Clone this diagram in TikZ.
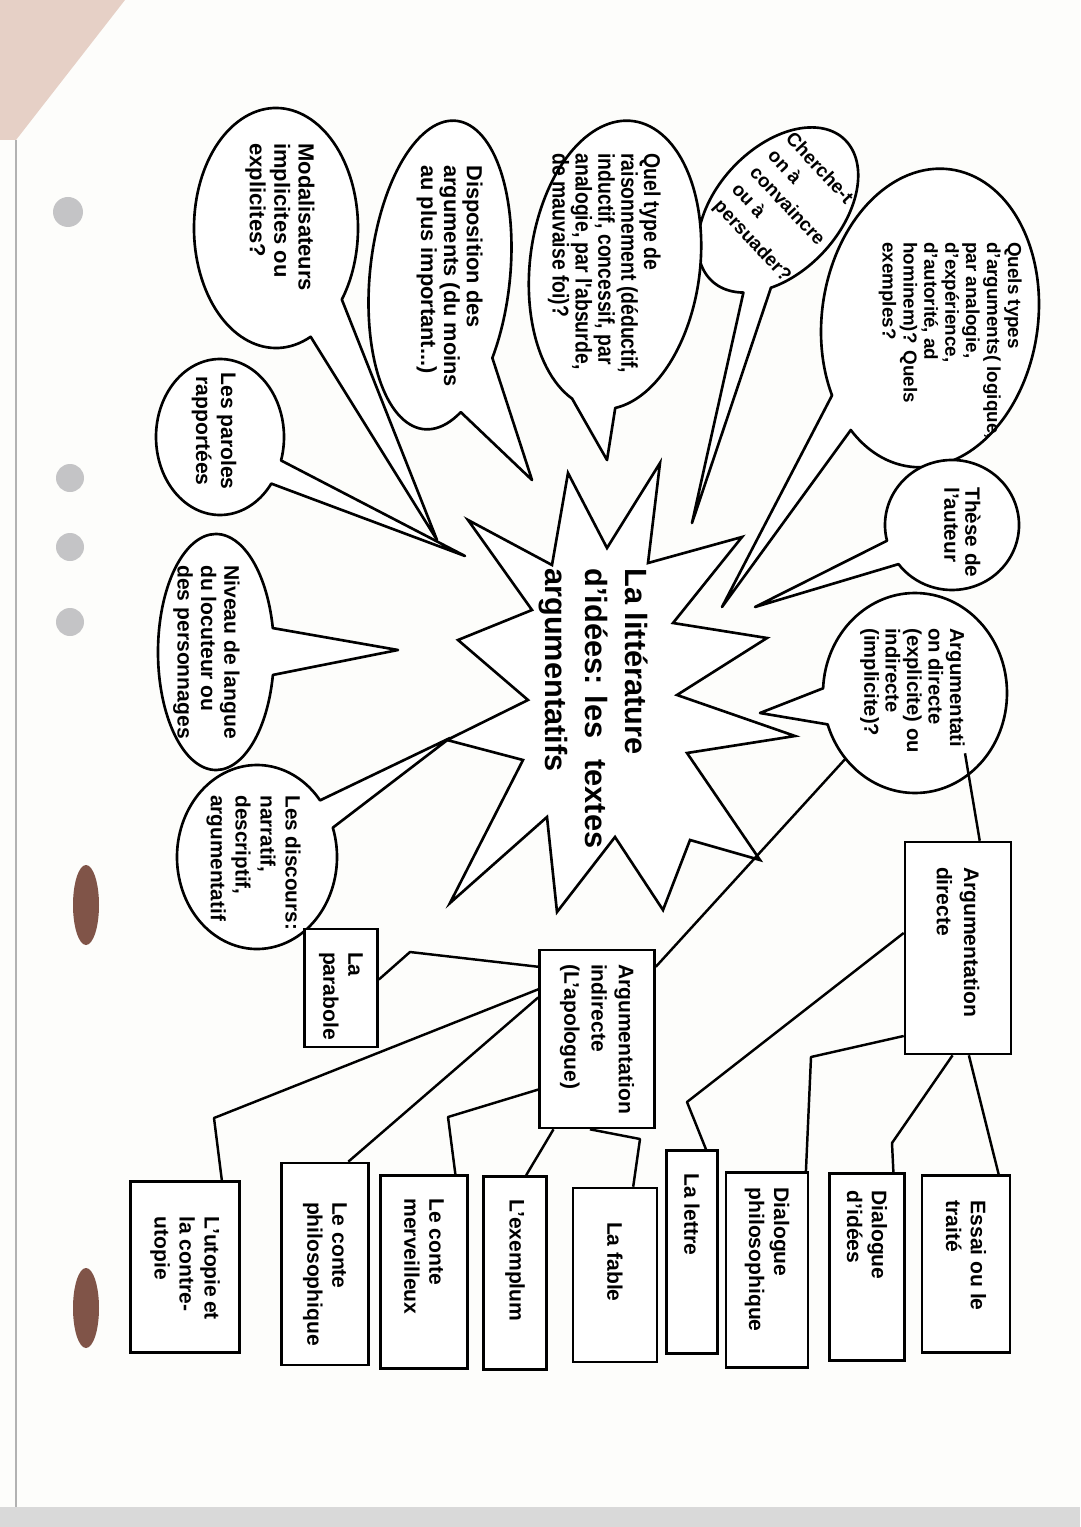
\documentclass[tikz,border=0pt]{standalone}
\usepackage{fontspec}
\setmainfont{Liberation Sans}
\newfontfamily\etroite{Liberation Sans}[FakeStretch=0.85]
\usetikzlibrary{calc}
\definecolor{papier}{RGB}{253,253,251}
\definecolor{trou}{RGB}{196,196,198}
\definecolor{dechire}{RGB}{128,84,72}
\definecolor{coin}{RGB}{230,208,198}
\tikzset{
  bulle/.style={draw=black, line width=1.5pt, fill=white, line join=round},
  etoile/.style={draw=black, line width=1.5pt, fill=white, line join=miter},
  etiq/.style 2 args={align=left, inner sep=0pt, font=\bfseries\fontsize{#1}{#2}\selectfont},
  boite/.style={draw=black, line width=1.5pt, fill=white, inner sep=0pt,
                font=\bfseries\fontsize{12}{14.2}\selectfont},
  lien/.style={line width=1.4pt, line join=round},
}
\newcommand\vtexte[2]{\rotatebox{-90}{\parbox{#1}{\raggedright #2}}}

\begin{document}
\begin{tikzpicture}[x=0.02cm, y=-0.02cm]
  \useasboundingbox (0,0) rectangle (1080,1527);
  % la feuille
  \fill[papier] (0,0) rectangle (1080,1527);
  \fill[coin] (0,0) -- (125,0) -- (16,140) -- (0,140) -- cycle;
  \draw[black!30, line width=1pt] (16,140) -- (16,1507);
  \fill[black!15] (0,1507) rectangle (1080,1527);
  \fill[trou] (68,212) circle[radius=15];
  \fill[trou] (70,478) circle[radius=14];
  \fill[trou] (70,547) circle[radius=14];
  \fill[trou] (70,622) circle[radius=14];
  \fill[dechire] (86,905) ellipse[x radius=13, y radius=40];
  \fill[dechire] (86,1308) ellipse[x radius=13, y radius=40];

  % l'etoile centrale
  \draw[etoile] (568,473) -- (607,548) -- (660,463) -- (648,563) -- (742,537) -- (673,623)
    -- (767,638) -- (677,695) -- (795,736) -- (687,753) -- (760,860) -- (690,840)
    -- (663,910) -- (615,837) -- (557,912) -- (547,817) -- (450,903) -- (523,760)
    -- (447,740) -- (528,700) -- (458,640) -- (532,610) -- (468,520) -- (552,565) -- cycle;
  \node[font=\bfseries\fontsize{17.5}{22.7}\selectfont, align=left, inner sep=0pt, rotate=-90,
        anchor=north west] (titre) at (648,568)
    {La litt\'erature\\d'id\'ees: les\hspace{0.4em} textes\\argumentatifs};

  % les bulles
  \coordinate (qtypes-pt) at (722,607);
  \draw[bulle, shift={(930,318)}, rotate=-8] (143:108 and 150)
    arc[start angle=143, end angle=485.6, x radius=108, y radius=150] -- (qtypes-pt) -- cycle;
  \node[etiq={10.7}{11.9}, rotate=-90, anchor=north west] (t-qtypes) at (1022,242)
    {Quels types\\d'arguments( logique,\\par analogie,\\d'exp\'erience,\\d'autorit\'e, ad\\hominem)? Quels\\exemples?};

  \coordinate (cherche-pt) at (692,523);
  \draw[bulle, shift={(778,210)}, rotate=-43] (60:62 and 97)
    arc[start angle=60, end angle=399.5, x radius=62, y radius=97] -- (cherche-pt) -- cycle;
  \node[etiq={10.8}{14}, rotate=-47, anchor=north west] (t-cherche) at (795,130)
    {Cherche-t\\on \`a\\convaincre\\ou \`a\\persuader?};

  \coordinate (qraison-pt) at (607,460);
  \draw[bulle, shift={(615,265)}, rotate=-7] (108:85 and 145)
    arc[start angle=108, end angle=438, x radius=85, y radius=145] -- (qraison-pt) -- cycle;
  \node[etiq={13}{13}, font=\etroite\bfseries\fontsize{13}{13}\selectfont, rotate=-90,
        anchor=north west] (t-qraison) at (661,153)
    {Quel type de\\raisonnement (d\'eductif,\\inductif, concessif, par\\analogie, par l'absurde,\\de mauvaise foi)?};

  \coordinate (dispo-pt) at (532,480);
  \draw[bulle, shift={(440,275)}, rotate=-6] (60:70 and 155)
    arc[start angle=60, end angle=389.8, x radius=70, y radius=155] -- (dispo-pt) -- cycle;
  \node[etiq={12.4}{13}, rotate=-90, anchor=north west] (t-dispo) at (483,165)
    {Disposition des\\arguments (du moins\\au plus important...)};

  \coordinate (modal-pt) at (437,540);
  \draw[bulle, shift={(276,228)}] (65:82 and 120)
    arc[start angle=65, end angle=396.6, x radius=82, y radius=120] -- (modal-pt) -- cycle;
  \node[etiq={12.5}{13.9}, rotate=-90, anchor=north west] (t-modal) at (315,143)
    {Modalisateurs\\implicites ou\\explicites?};

  \coordinate (paroles-pt) at (465,556);
  \draw[bulle, shift={(220,437)}] (36.7:64 and 78)
    arc[start angle=36.7, end angle=377.5, x radius=64, y radius=78] -- (paroles-pt) -- cycle;
  \node[etiq={12}{14.2}, align=center, rotate=-90] (t-paroles) at (214,431)
    {Les paroles\\rapport\'ees};

  \coordinate (niveau-pt) at (398,650);
  \draw[bulle, shift={(216,652)}] (11.2:58 and 118)
    arc[start angle=11.2, end angle=348.3, x radius=58, y radius=118] -- (niveau-pt) -- cycle;
  \node[etiq={12}{13.3}, rotate=-90, anchor=north west] (t-niveau) at (240,565)
    {Niveau de langue\\du locuteur ou\\des personnages};

  \coordinate (discours-pt) at (450,738);
  \draw[bulle, shift={(257,857)}] (-18.6:80 and 92)
    arc[start angle=-18.6, end angle=322, x radius=80, y radius=92] -- (discours-pt) -- cycle;
  \node[etiq={11.8}{14.2}, rotate=-90, anchor=north west] (t-discours) at (301,795)
    {Les discours:\\narratif,\\descriptif,\\argumentatif};

  \coordinate (these-pt) at (755,607);
  \draw[bulle, shift={(952,525)}] (166:67 and 65)
    arc[start angle=166, end angle=503, x radius=67, y radius=65] -- (these-pt) -- cycle;
  \node[etiq={11.8}{12}, rotate=-90, anchor=north west] (t-these) at (981,487)
    {Th\`ese de\\l'auteur};

  \coordinate (argdi-pt) at (760,713);
  \draw[bulle, shift={(915,693)}] (182.7:92 and 100)
    arc[start angle=182.7, end angle=521.7, x radius=92, y radius=100] -- (argdi-pt) -- cycle;
  \coordinate (argdi-b) at ($(915,693)+(139:92 and 100)$);
  \node[etiq={11.5}{12.2}, rotate=-90, anchor=north west] (t-argdi) at (965,628)
    {Argumentati\\on directe\\(explicite) ou\\indirecte\\(implicite)?};

  % les boites
  \node[boite, font=\bfseries\fontsize{12}{15.5}\selectfont, minimum width=2.12cm,
        minimum height=4.24cm] (ddir) at (958,948) {\vtexte{3.24cm}{Argumentation\\directe}};
  \node[boite, font=\bfseries\fontsize{12}{15.5}\selectfont, minimum width=2.3cm,
        minimum height=3.56cm] (ind) at (597,1039) {\vtexte{3cm}{Argumentation\\indirecte\\(L'apologue)}};
  \node[boite, minimum width=1.46cm, minimum height=2.36cm] (parab) at (341,988) {\vtexte{1.44cm}{La\\parabole}};
  \node[boite, minimum width=2.18cm, minimum height=3.42cm] (utopie) at (185,1267) {\vtexte{2.02cm}{L'utopie~et\\la contre-\\utopie}};
  \node[boite, minimum width=1.74cm, minimum height=4.04cm] (cphilo) at (325,1264) {\vtexte{2.48cm}{Le conte\\philosophique}};
  \node[boite, minimum width=1.74cm, minimum height=3.86cm] (cmerv) at (424,1272) {\vtexte{2.94cm}{Le conte\\merveilleux}};
  \node[boite, minimum width=1.26cm, minimum height=3.86cm] (exemplum) at (515,1273) {\vtexte{2.94cm}{L'exemplum}};
  \node[boite, minimum width=1.68cm, minimum height=3.48cm] (fable) at (615,1275) {\vtexte{2.12cm}{La fable}};
  \node[boite, minimum width=1.02cm, minimum height=4.06cm] (lettre) at (692,1252) {\vtexte{3.14cm}{La lettre}};
  \node[boite, minimum width=1.64cm, minimum height=3.9cm] (dphilo) at (767,1270) {\vtexte{3.3cm}{Dialogue\\philosophique}};
  \node[boite, minimum width=1.5cm, minimum height=3.74cm] (didees) at (867,1267) {\vtexte{3.06cm}{Dialogue\\d'id\'ees}};
  \node[boite, minimum width=1.76cm, minimum height=3.54cm] (essai) at (966,1264) {\vtexte{2.54cm}{Essai ou le\\trait\'e}};

  % les liens
  \draw[lien] (t-argdi.north east) -- ($(ddir.north west)!0.7!(ddir.north east)$);
  \draw[lien] (argdi-b) -- ($(ind.north east)!0.1!(ind.south east)$);
  \draw[lien] ($(ind.north west)!0.1!(ind.south west)$) -- (410,952) -- ($(parab.north east)!0.43!(parab.south east)$);
  \draw[lien] ($(ind.north west)!0.225!(ind.south west)$) -- (214,1118) -- ($(utopie.north west)!0.83!(utopie.north east)$);
  \draw[lien] ($(ind.north west)!0.27!(ind.south west)$) -- ($(cphilo.north west)!0.76!(cphilo.north east)$);
  \draw[lien] ($(ind.north west)!0.78!(ind.south west)$) -- (448,1117) -- ($(cmerv.north west)!0.85!(cmerv.north east)$);
  \draw[lien] ($(ind.south west)!0.13!(ind.south east)$) -- (543,1147) -- ($(exemplum.north west)!0.67!(exemplum.north east)$);
  \draw[lien] ($(ind.south west)!0.44!(ind.south east)$) -- (640,1139) -- ($(fable.north west)!0.71!(fable.north east)$);
  \draw[lien] ($(ddir.north west)!0.43!(ddir.south west)$) -- (687,1102) -- ($(lettre.north west)!0.76!(lettre.north east)$);
  \draw[lien] ($(ddir.north west)!0.91!(ddir.south west)$) -- (811,1057) -- ($(dphilo.north west)!0.96!(dphilo.north east)$);
  \draw[lien] ($(ddir.south west)!0.45!(ddir.south east)$) -- (892,1143) -- ($(didees.north west)!0.84!(didees.north east)$);
  \draw[lien] ($(ddir.south west)!0.6!(ddir.south east)$) -- ($(essai.north west)!0.86!(essai.north east)$);
\end{tikzpicture}
\end{document}
